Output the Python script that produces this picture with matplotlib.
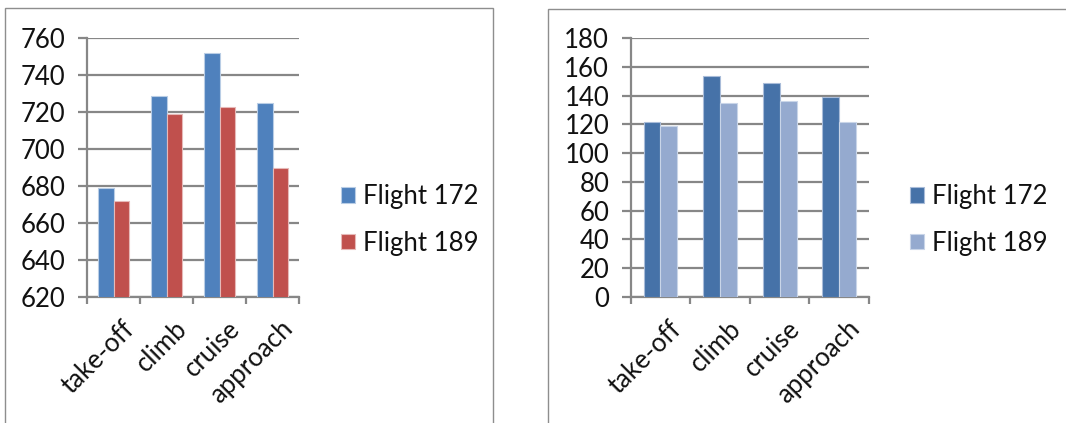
import matplotlib
matplotlib.use("Agg")
import matplotlib.pyplot as plt
import matplotlib.transforms as mtransforms
from matplotlib.patches import Rectangle
import numpy as np

plt.rcParams['font.family'] = ['Lato', 'DejaVu Sans']

phases = ["take-off", "climb", "cruise", "approach"]
series_names = ["Flight 172", "Flight 189"]

# left panel
left_172 = [679, 729, 752, 725]
left_189 = [672, 719, 723, 690]
left_ticks = [620, 640, 660, 680, 700, 720, 740, 760]

# right panel
right_172 = [122, 154, 149, 139]
right_189 = [119, 135, 136, 122]
right_ticks = [0, 20, 40, 60, 80, 100, 120, 140, 160, 180]

GRID = "#878787"
FS = 18.5


def draw_panel(fig, rect, v1, v2, ticks, colors, edges, legend_xy):
    ax = fig.add_axes(rect)
    x = np.arange(len(phases))
    w = 0.285
    b1 = ax.bar(x - w / 2, v1, w, color=colors[0], edgecolor=edges[0], linewidth=0.8,
                label=series_names[0], zorder=3)
    b2 = ax.bar(x + w / 2, v2, w, color=colors[1], edgecolor=edges[1], linewidth=0.8,
                label=series_names[1], zorder=3)
    ax.set_xlim(-0.5, len(phases) - 0.5)
    ax.set_ylim(ticks[0], ticks[-1])
    ax.set_yticks(ticks)
    ax.yaxis.grid(True, color=GRID, linewidth=1.6, zorder=0)
    ax.set_axisbelow(True)
    for s in ["top", "right"]:
        ax.spines[s].set_visible(False)
    for s in ["left", "bottom"]:
        ax.spines[s].set_color(GRID)
        ax.spines[s].set_linewidth(1.6)
    ax.tick_params(axis="y", length=6.5, width=1.6, color=GRID, pad=9,
                   labelsize=FS, labelcolor="#111111")
    ax.set_xticks(x)
    ax.set_xticklabels(phases, rotation=45, ha="right", va="top",
                       rotation_mode="anchor", fontsize=FS, color="#111111")
    ax.tick_params(axis="x", which="major", length=0, pad=14)
    ax.set_xticks(np.arange(len(phases) + 1) - 0.5, minor=True)
    ax.tick_params(axis="x", which="minor", length=5, width=1.6, color=GRID)
    shift = mtransforms.ScaledTranslation(8 / 100, 0, fig.dpi_scale_trans)
    for lab in ax.get_xticklabels():
        lab.set_transform(lab.get_transform() + shift)
    leg = fig.legend(handles=[b1, b2], loc="upper left", bbox_to_anchor=legend_xy,
                     frameon=False, fontsize=FS, handlelength=0.55, handleheight=0.55,
                     handletextpad=0.3, labelspacing=0.85, borderpad=0, borderaxespad=0)
    for t in leg.get_texts():
        t.set_color("#111111")
    return ax


fig = plt.figure(figsize=(10.66, 4.23), dpi=100)

# panel frames
for (x0, y0, x1) in [(5, 8, 493), (548, 9, 1070)]:
    fig.add_artist(Rectangle((x0 / 1066, -0.1), (x1 - x0) / 1066, 1 - y0 / 423 + 0.1,
                             transform=fig.transFigure, fill=False,
                             edgecolor="#8e8e8e", linewidth=1.0))

draw_panel(fig, [87 / 1066, 1 - 296.7 / 423, 212 / 1066, 258.4 / 423],
           left_172, left_189, left_ticks,
           ["#4F81BD", "#C0504D"], ["#B9CDE5", "#E6B9B8"],
           (341 / 1066, 1 - 184 / 423))
draw_panel(fig, [630.7 / 1066, 1 - 296.7 / 423, 238.3 / 1066, 258.4 / 423],
           right_172, right_189, right_ticks,
           ["#4672A8", "#95AACF"], ["#A9BCD9", "#C9D5E8"],
           (910 / 1066, 1 - 184 / 423))

fig.savefig("out.png", dpi=100)
